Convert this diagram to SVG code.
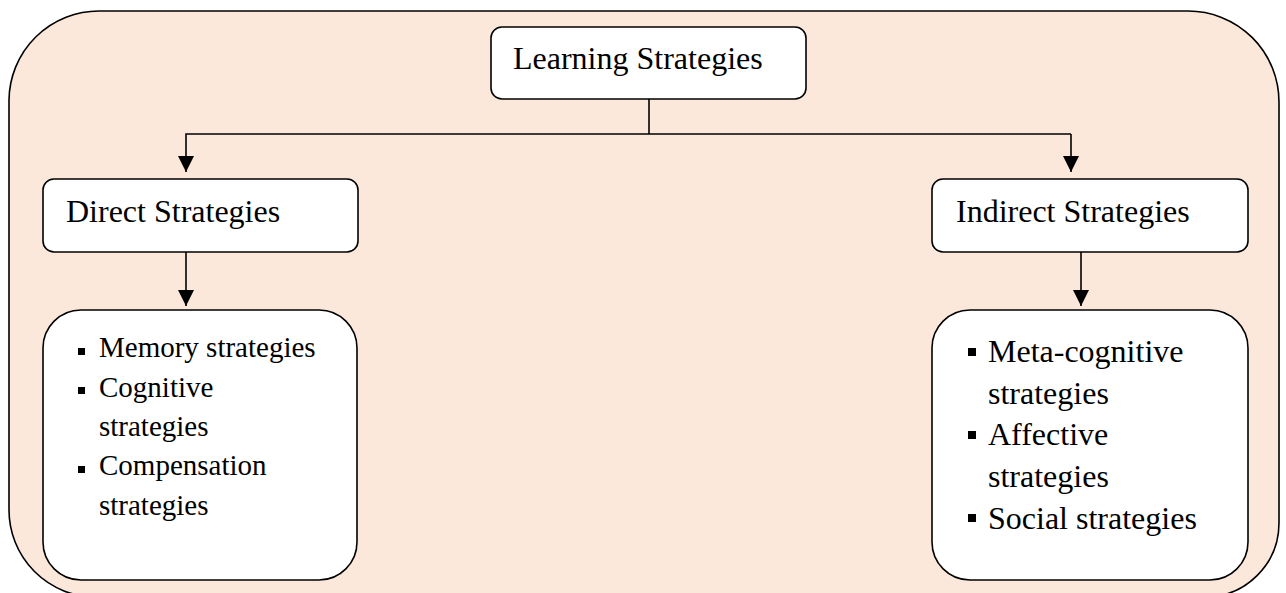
<svg xmlns="http://www.w3.org/2000/svg" width="1286" height="593" viewBox="0 0 1286 593">
<defs>
<style>
.box{fill:#ffffff;stroke:#000000;stroke-width:1.6}
.outer{fill:#FCE8DA;stroke:#000000;stroke-width:1.6}
.t{font-family:"Liberation Serif","Times New Roman",serif;fill:#000000}
.h{font-size:32px}
.l1{font-size:29px}
.l2{font-size:32px}
.conn{fill:none;stroke:#000000;stroke-width:1.6}
</style>
<marker id="arr" viewBox="0 0 16 16" refX="16" refY="8" markerWidth="16" markerHeight="16" markerUnits="userSpaceOnUse" orient="auto">
<path d="M0,0 L16,8 L0,16 Z" fill="#000000"/>
</marker>
</defs>
<rect width="1286" height="593" fill="#ffffff"/>
<g id="background">
<path class="outer" d="M9,100 A90,90 0 0 1 99,11 L1188,11 A91,91 0 0 1 1279,102 L1279,523 A74,74 0 0 1 1205,597 L96,597 A87,87 0 0 1 9,510 Z"/>
</g>
<g id="connectors">
<path class="conn" d="M649,99 L649,134"/>
<path class="conn" d="M1071,134 L186,134 L186,172" marker-end="url(#arr)"/>
<path class="conn" d="M1071,134 L1071,172" marker-end="url(#arr)"/>
<path class="conn" d="M186,252 L186,306" marker-end="url(#arr)"/>
<path class="conn" d="M1081,252 L1081,306" marker-end="url(#arr)"/>
</g>
<g id="learning-strategies">
<rect class="box" x="491" y="27" width="315" height="72" rx="11"/>
<text class="t h" x="513" y="69">Learning Strategies</text>
</g>
<g id="direct-strategies">
<rect class="box" x="43" y="179" width="315" height="73" rx="11"/>
<text class="t h" x="66" y="222">Direct Strategies</text>
</g>
<g id="indirect-strategies">
<rect class="box" x="932" y="179" width="316" height="73" rx="11"/>
<text class="t h" x="956" y="222">Indirect Strategies</text>
</g>
<g id="direct-list">
<rect class="box" x="43" y="310" width="314" height="270" rx="38"/>
<rect x="78" y="348" width="7" height="7" fill="#000"/>
<rect x="78" y="387" width="7" height="7" fill="#000"/>
<rect x="78" y="466" width="7" height="7" fill="#000"/>
<text class="t l1" x="99" y="357">Memory strategies</text>
<text class="t l1" x="99" y="397">Cognitive</text>
<text class="t l1" x="99" y="436">strategies</text>
<text class="t l1" x="99" y="475">Compensation</text>
<text class="t l1" x="99" y="515">strategies</text>
</g>
<g id="indirect-list">
<rect class="box" x="932" y="310" width="316" height="270" rx="38"/>
<rect x="968" y="348" width="8" height="8" fill="#000"/>
<rect x="968" y="431" width="8" height="8" fill="#000"/>
<rect x="968" y="514" width="8" height="8" fill="#000"/>
<text class="t l2" x="988" y="362">Meta-cognitive</text>
<text class="t l2" x="988" y="404">strategies</text>
<text class="t l2" x="988" y="445">Affective</text>
<text class="t l2" x="988" y="487">strategies</text>
<text class="t l2" x="988" y="529">Social strategies</text>
</g>
</svg>
